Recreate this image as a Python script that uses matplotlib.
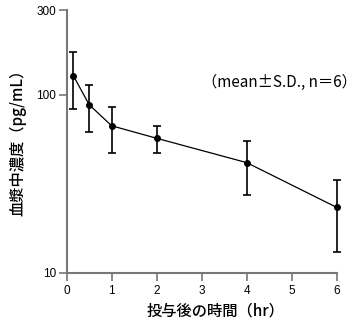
import matplotlib
matplotlib.use("Agg")
import matplotlib.pyplot as plt
from matplotlib.ticker import FixedLocator, NullLocator

plt.rcParams['font.family'] = ['Noto Sans CJK JP', 'DejaVu Sans']

time_hr = [0.15, 0.5, 1, 2, 4, 6]
conc_mean = [128, 88, 67, 57, 41.6, 23.3]
err_lower = [45, 26, 20, 10, 14.2, 10.3]
err_upper = [46, 25, 18, 9.6, 13.7, 9.9]

x_ticks = [0, 1, 2, 3, 4, 5, 6]
y_ticks = [10, 100, 300]
y_ticklabels = ["10", "100", "300"]

xlabel = "投与後の時間（hr）"
ylabel = "血漿中濃度（pg/mL）"
note = "（mean±S.D., n＝6）"

fig = plt.figure(figsize=(3.61, 3.26), dpi=100)
ax = fig.add_axes([0.1847, 0.1634, 0.748, 0.8059])

ax.errorbar(time_hr, conc_mean, yerr=[err_lower, err_upper], fmt='o-',
            color='black', markersize=4, linewidth=0.9, elinewidth=1.2,
            capsize=3, capthick=1.2, clip_on=False)

ax.set_yscale('log')
ax.set_xlim(0, 6)
ax.set_ylim(10, 300)
ax.yaxis.set_major_locator(FixedLocator(y_ticks))
ax.yaxis.set_minor_locator(NullLocator())
ax.set_yticklabels(y_ticklabels)
ax.set_xticks(x_ticks)

for s in ['top', 'right']:
    ax.spines[s].set_visible(False)
for s in ['left', 'bottom']:
    ax.spines[s].set_color('#777777')
    ax.spines[s].set_linewidth(1.5)

ax.tick_params(axis='both', direction='out', length=5.5, width=1.2,
               color='#777777', labelsize=8.5)
ax.tick_params(axis='x', pad=3.5)
ax.tick_params(axis='y', pad=2)
for lab in ax.get_xticklabels() + ax.get_yticklabels():
    lab.set_family(['Liberation Sans', 'DejaVu Sans'])

ax.set_xlabel(xlabel, fontsize=11, fontweight='medium')
ax.set_ylabel(ylabel, fontsize=11, fontweight='medium')
ax.xaxis.set_label_coords(0.553, -0.112)
ax.yaxis.set_label_coords(-0.150, 0.51)

fig.text(357/361, 1 - 82/326, note, ha='right', va='center', fontsize=11)

fig.savefig("out.png", dpi=100)
